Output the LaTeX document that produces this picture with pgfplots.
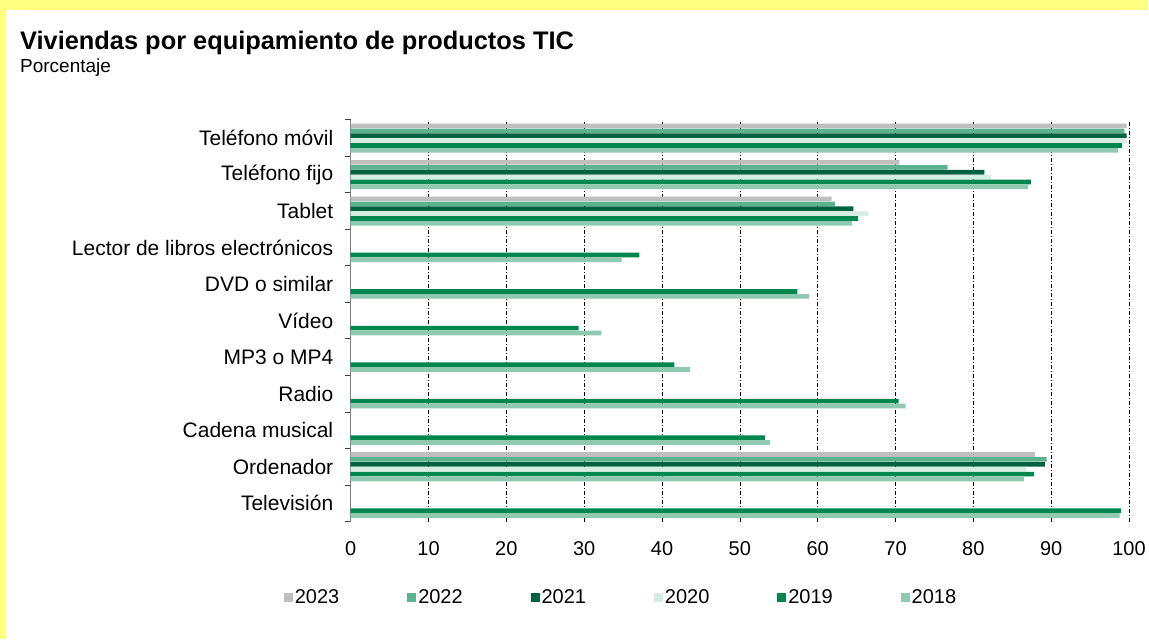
\documentclass[border=0pt]{standalone}
\usepackage{pgfplots}
\pgfplotsset{compat=1.18}
\usepackage{fontspec}
\setmainfont{Liberation Sans}
\definecolor{c2023}{HTML}{BFBFBF}
\definecolor{c2022}{HTML}{5BB28F}
\definecolor{c2021}{HTML}{006241}
\definecolor{c2020}{HTML}{D5EDE2}
\definecolor{c2019}{HTML}{00874F}
\definecolor{c2018}{HTML}{8FCAB0}
\definecolor{bgyellow}{HTML}{FFFF80}
\begin{document}
\begin{tikzpicture}
\fill[bgyellow] (0bp,0bp) rectangle (1149bp,640bp);
\fill[white] (6bp,0bp) rectangle (1149bp,630bp);
\node[anchor=base west, inner sep=0pt, font=\fontsize{25.4bp}{30bp}\selectfont\bfseries] at (20bp,590bp) {Viviendas por equipamiento de productos TIC};
\node[anchor=base west, inner sep=0pt, font=\fontsize{19bp}{23bp}\selectfont] at (20bp,567bp) {Porcentaje};
\begin{axis}[
  at={(351bp,118bp)}, anchor=south west,
  scale only axis, width=779bp, height=402bp,
  xmin=0, xmax=100, ymin=-0.5, ymax=10.5,
  xbar, bar width=4.6bp,
  axis lines*=left,
  axis line style={-},
  x axis line style={draw=none},
  y axis line style={draw=gray, line width=1.3bp},
  xtick={0,10,...,100},
  xtick style={draw=none},
  xmajorgrids,
  major grid style={black, line width=0.7bp, dash pattern=on 4bp off 2bp on 1bp off 2bp},
  xticklabel style={font=\fontsize{20bp}{24bp}\selectfont, yshift=-10bp},
  /pgf/number format/assume math mode=true,
  ytick={-0.5,0.5,1.5,2.5,3.5,4.5,5.5,6.5,7.5,8.5,9.5,10.5},
  yticklabels={Televisión, Ordenador, Cadena musical, Radio\ , MP3 o MP4, Vídeo, DVD o similar, Lector de libros electrónicos, Tablet, Teléfono fijo, Teléfono móvil, {}},
  yticklabel style={font=\fontsize{21bp}{25bp}\selectfont, yshift=18.27bp, xshift=-8bp},
  ytick style={draw=darkgray, line width=1bp},
  tick align=outside,
  major tick length=6bp,
  legend columns=6,
  legend image code/.code={\draw[#1, draw=none] (0bp,-4.5bp) rectangle (9bp,4.5bp);},
  legend style={at={(-0.0899,-0.189)}, anchor=west, draw=none, fill=none,
    font=\fontsize{20bp}{24bp}\selectfont,
    /tikz/every odd column/.append style={column sep=0bp},
    /tikz/every even column/.append style={column sep=66bp}},
]
\addplot[fill=c2023, draw=none, bar shift=12.25bp] coordinates {(87.9,1) (61.8,8) (70.5,9) (99.7,10)};
\addplot[fill=c2022, draw=none, bar shift=7.35bp] coordinates {(89.4,1) (62.2,8) (76.7,9) (99.4,10)};
\addplot[fill=c2021, draw=none, bar shift=2.45bp] coordinates {(89.2,1) (64.6,8) (81.4,9) (99.7,10)};
\addplot[fill=c2020, draw=none, bar shift=-2.45bp] coordinates {(86.8,1) (66.5,8) (82.3,9) (99.7,10)};
\addplot[fill=c2019, draw=none, bar shift=-7.35bp] coordinates {(99.0,0) (87.8,1) (53.2,2) (70.4,3) (41.6,4) (29.3,5) (57.4,6) (37.1,7) (65.2,8) (87.4,9) (99.1,10)};
\addplot[fill=c2018, draw=none, bar shift=-12.25bp] coordinates {(98.8,0) (86.5,1) (53.9,2) (71.3,3) (43.6,4) (32.2,5) (58.9,6) (34.8,7) (64.4,8) (87.0,9) (98.6,10)};
\legend{2023,2022,2021,2020,2019,2018}
\end{axis}
\end{tikzpicture}
\end{document}
